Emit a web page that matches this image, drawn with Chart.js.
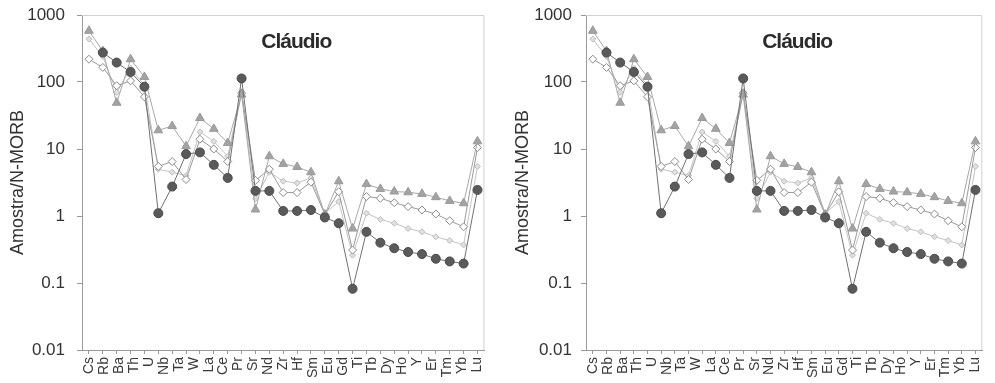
<!DOCTYPE html>
<html>
<head>
<meta charset="utf-8">
<script src="https://cdn.jsdelivr.net/npm/chart.js@4.4.1/dist/chart.umd.min.js"></script>
<style>
body { margin: 0; background: #fff; }
#wrap { position: relative; width: 995px; height: 383px; }
canvas { position: absolute; top: 0; }
</style>
</head>
<body>
<div id="wrap">
  <canvas id="left" width="497" height="383" style="left:0px"></canvas>
  <canvas id="right" width="494" height="383" style="left:501px"></canvas>
</div>
<script>
// element labels printed under the axis (27 of them, spread over 29 plot slots)
var elements = ["Cs","Rb","Ba","Th","U","Nb","Ta","W","La","Ce","Pr","Sr","Nd","Zr","Hf","Sm","Eu","Gd","Ti","Tb","Dy","Ho","Y","Er","Tm","Yb","Lu"];
var yTicks = [0.01, 0.1, 1, 10, 100, 1000];
var chartTitle = "Cláudio";
var yTitle = "Amostra/N-MORB";

// sample / N-MORB, one value per plot slot (29)
var circles   = [null, 275, 195, 141, 85, 1.1, 2.75, 8.4, 8.9, 5.8, 3.7, 113, 2.37, 2.37, 1.19, 1.19, 1.23, 0.95, 0.78, 0.082, 0.58, 0.40, 0.33, 0.29, 0.27, 0.23, 0.21, 0.195, 2.45];
var triangles = [582, 290, 49, 219, 119, 19, 22, 11, 29, 20, 12.3, 65, 1.25, 7.8, 6.0, 5.4, 4.5, 1.05, 3.3, 0.65, 3.0, 2.54, 2.32, 2.26, 2.14, 1.91, 1.68, 1.55, 13];
var diamonds  = [219, 165, 88, 104, 60, 5.5, 6.5, 3.5, 14, 10, 6.5, 68, 3.4, 5.0, 2.24, 2.24, 3.2, 1.05, 2.3, 0.31, 1.95, 1.84, 1.58, 1.38, 1.23, 1.07, 0.85, 0.69, 10.5];
var pale      = [437, 240, 70, 160, 90, 5.0, 4.5, 4.0, 18, 13, 7.8, 72, 1.82, 4.5, 3.3, 3.1, 3.7, 1.1, 1.64, 0.26, 1.1, 0.89, 0.78, 0.65, 0.58, 0.49, 0.43, 0.37, 5.5];

Chart.defaults.font.family = "'Liberation Sans', Arial, sans-serif";

var framePlugin = {
  id: 'frame',
  beforeDatasetsDraw: function(chart) {
    var a = chart.chartArea, ctx = chart.ctx;
    ctx.save();
    ctx.strokeStyle = '#d2d2d2';
    ctx.lineWidth = 1;
    ctx.beginPath();
    ctx.moveTo(a.left, a.top + 0.5);
    ctx.lineTo(a.right - 0.5, a.top + 0.5);
    ctx.lineTo(a.right - 0.5, a.bottom);
    ctx.stroke();
    ctx.restore();
  }
};

var insideTitle = {
  id: 'insideTitle',
  afterDraw: function(chart) {
    var a = chart.chartArea, ctx = chart.ctx;
    ctx.save();
    ctx.font = "bold 21px 'Liberation Sans', Arial, sans-serif";
    ctx.letterSpacing = '-1px';
    ctx.fillStyle = '#2b2b2b';
    ctx.textAlign = 'center';
    ctx.textBaseline = 'middle';
    ctx.fillText(chartTitle, (a.left + a.right) / 2 + 13, a.top + 27);
    ctx.restore();
  }
};

function makeChart(id, yWidth, titlePad, tickPad, padRight)
{
  var slots = circles.map(function(v, i) { return i; });
  return new Chart(document.getElementById(id), {
    type: 'line',
    data: {
      labels: slots,
      datasets: [
        { data: circles, borderColor: '#707070', borderWidth: 1, pointStyle: 'circle', pointRadius: 4.5,
          pointBackgroundColor: '#5a5a5a', pointBorderColor: '#4a4a4a', tension: 0 },
        { data: triangles, borderColor: '#a8a8a8', borderWidth: 1, pointStyle: 'triangle', pointRadius: 5,
          pointBackgroundColor: '#a3a3a3', pointBorderColor: '#999', tension: 0 },
        { data: diamonds, borderColor: '#9a9a9a', borderWidth: 1, pointStyle: 'rectRot', pointRadius: 4,
          pointBackgroundColor: '#fff', pointBorderColor: '#8a8a8a', tension: 0 },
        { data: pale, borderColor: '#c4c4c4', borderWidth: 1, pointStyle: 'rectRot', pointRadius: 3,
          pointBackgroundColor: '#e0e0e0', pointBorderColor: '#bdbdbd', tension: 0 }
      ]
    },
    options: {
      responsive: false,
      animation: false,
      layout: { padding: { top: 15, right: padRight, left: 0, bottom: 0 } },
      plugins: { legend: { display: false }, tooltip: { enabled: false } },
      scales: {
        x: {
          type: 'category',
          position: 'bottom',
          weight: 0,
          offset: true,
          grid: { drawOnChartArea: false, tickLength: 4, color: '#999' },
          border: { color: '#9a9a9a' },
          ticks: { display: false }
        },
        x2: {
          type: 'category',
          position: 'bottom',
          weight: 1,
          labels: elements,
          offset: true,
          grid: { display: false, drawTicks: false },
          border: { display: false },
          ticks: { autoSkip: false, minRotation: 90, maxRotation: 90, padding: 3,
                   color: '#3a3a3a', font: { size: 14 } },
          afterFit: function(scale) { scale.height = 29; }
        },
        y: {
          type: 'logarithmic',
          min: 0.01,
          max: 1000,
          grid: { drawOnChartArea: false, tickLength: 5, color: '#999' },
          border: { color: '#9a9a9a' },
          afterBuildTicks: function(axis) {
            axis.ticks = yTicks.map(function(v) { return { value: v }; });
          },
          ticks: {
            padding: tickPad,
            color: '#333',
            font: { size: 17 },
            callback: function(v) { return String(v); }
          },
          title: { display: true, text: yTitle, color: '#333', font: { size: 18 },
                   padding: { top: titlePad, bottom: 0 } },
          afterFit: function(scale) {
            scale.width = yWidth;
            scale.paddingTop = 0;
            scale.paddingBottom = 0;
          }
        }
      }
    },
    plugins: [framePlugin, insideTitle]
  });
}

var leftChart = makeChart('left', 82, 7, 12, 6);
var rightChart = makeChart('right', 85, 11, 9, 2);
</script>
</body>
</html>
